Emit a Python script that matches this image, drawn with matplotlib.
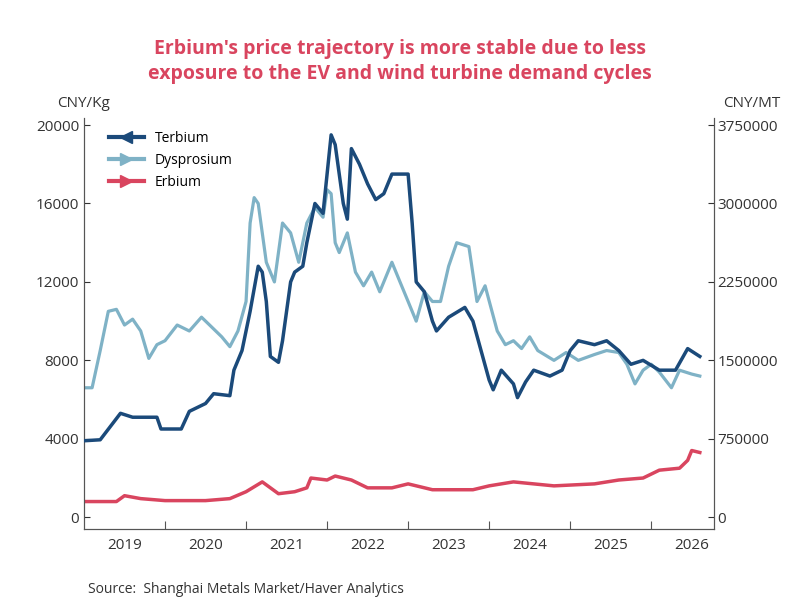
import matplotlib
matplotlib.use("Agg")
import matplotlib.pyplot as plt
from matplotlib.lines import Line2D
from matplotlib.ticker import FuncFormatter

plt.rcParams['font.family'] = ['Open Sans', 'DejaVu Sans']

# Terbium, CNY/Kg (left axis)
tb_t = [2019.0, 2019.2, 2019.45, 2019.6, 2019.9, 2019.95, 2020.2, 2020.3, 2020.5, 2020.6, 2020.8, 2020.85,
        2020.95, 2021.05, 2021.15, 2021.2, 2021.25, 2021.3, 2021.4, 2021.45, 2021.55, 2021.6, 2021.7, 2021.75,
        2021.85, 2021.95, 2022.05, 2022.1, 2022.2, 2022.25, 2022.3, 2022.4, 2022.5, 2022.6, 2022.7, 2022.8,
        2023.0, 2023.05, 2023.1, 2023.2, 2023.3, 2023.35, 2023.5, 2023.7, 2023.8, 2023.9, 2024.0, 2024.05,
        2024.15, 2024.3, 2024.35, 2024.45, 2024.55, 2024.75, 2024.9, 2025.0, 2025.1, 2025.3, 2025.45, 2025.6,
        2025.75, 2025.9, 2026.1, 2026.3, 2026.45, 2026.6]
tb_v = [3900, 3950, 5300, 5100, 5100, 4500, 4500, 5400, 5800, 6300, 6200, 7500,
        8500, 10500, 12800, 12500, 11000, 8200, 7900, 9000, 12000, 12500, 12800, 14000,
        16000, 15500, 19500, 19000, 16000, 15200, 18800, 18000, 17000, 16200, 16500, 17500,
        17500, 15000, 12000, 11500, 10000, 9500, 10200, 10700, 10000, 8500, 7000, 6500,
        7500, 6800, 6100, 6900, 7500, 7200, 7500, 8500, 9000, 8800, 9000, 8500,
        7800, 8000, 7500, 7500, 8600, 8200]

# Dysprosium, thousand CNY/MT (right axis)
dy_t = [2019.0, 2019.1, 2019.2, 2019.3, 2019.4, 2019.5, 2019.6, 2019.7, 2019.8, 2019.9, 2020.0, 2020.15,
        2020.3, 2020.45, 2020.55, 2020.7, 2020.8, 2020.9, 2021.0, 2021.05, 2021.1, 2021.15, 2021.25, 2021.35,
        2021.45, 2021.55, 2021.65, 2021.75, 2021.85, 2021.95, 2022.0, 2022.05, 2022.1, 2022.15, 2022.25, 2022.35,
        2022.45, 2022.55, 2022.65, 2022.8, 2022.9, 2023.0, 2023.1, 2023.2, 2023.3, 2023.4, 2023.5, 2023.6,
        2023.75, 2023.85, 2023.95, 2024.1, 2024.2, 2024.3, 2024.4, 2024.5, 2024.6, 2024.8, 2024.95, 2025.1,
        2025.3, 2025.45, 2025.6, 2025.7, 2025.8, 2025.9, 2026.0, 2026.1, 2026.25, 2026.35, 2026.5, 2026.6]
dy_v = [1238, 1238, 1594, 1969, 1988, 1838, 1894, 1781, 1519, 1650, 1688, 1838,
        1781, 1913, 1838, 1725, 1631, 1781, 2063, 2813, 3056, 3000, 2438, 2250,
        2813, 2719, 2438, 2813, 2963, 2869, 3131, 3094, 2625, 2531, 2719, 2344,
        2213, 2344, 2156, 2438, 2250, 2063, 1875, 2156, 2063, 2063, 2400, 2625,
        2588, 2063, 2213, 1781, 1650, 1688, 1613, 1725, 1594, 1500, 1575, 1500,
        1556, 1594, 1575, 1463, 1275, 1406, 1463, 1388, 1238, 1406, 1369, 1350]

# Erbium, thousand CNY/MT (right axis)
er_t = [2019.0, 2019.4, 2019.5, 2019.7, 2020.0, 2020.5, 2020.8, 2021.0, 2021.2, 2021.4, 2021.6, 2021.75,
        2021.8, 2022.0, 2022.1, 2022.3, 2022.5, 2022.8, 2023.0, 2023.3, 2023.8, 2024.0, 2024.3, 2024.8,
        2025.3, 2025.6, 2025.9, 2026.1, 2026.35, 2026.45, 2026.5, 2026.6]
er_v = [150, 150, 206, 178, 159, 159, 178, 244, 338, 225, 244, 281,
        375, 356, 394, 356, 281, 281, 319, 263, 263, 300, 338, 300,
        319, 356, 375, 450, 469, 544, 638, 619]

years = [2019, 2020, 2021, 2022, 2023, 2024, 2025, 2026]

c_tb, c_dy, c_er = '#1b4a7a', '#7fb2c6', '#d9455f'

fig, ax = plt.subplots(figsize=(8, 6), dpi=100)
fig.subplots_adjust(left=0.105, right=0.893, top=0.803, bottom=0.118)
ax2 = ax.twinx()

ax.plot(tb_t, tb_v, color=c_tb, lw=2.5, zorder=3)
ax2.plot(dy_t, [v * 1000 for v in dy_v], color=c_dy, lw=2.3)
ax2.plot(er_t, [v * 1000 for v in er_v], color=c_er, lw=2.5)
ax.set_zorder(ax2.get_zorder() + 1)
ax.patch.set_visible(False)

ax.set_ylim(-610, 20350)
ax2.set_ylim(-610 * 187.5, 20350 * 187.5)
ax.set_yticks(range(0, 20001, 4000))
ax2.set_yticks(range(0, 3750001, 750000))
ax2.yaxis.set_major_formatter(FuncFormatter(lambda v, p: f'{v:.0f}'))
ax.set_xlim(2019.0, 2026.78)
ax.set_xticks(years[1:])
ax.set_xticklabels([])
ax.set_xticks([y + 0.5 for y in years], minor=True)
ax.set_xticklabels([str(y) for y in years], minor=True)
ax.tick_params(axis='x', which='minor', length=0, labelsize=11, colors='#333333', pad=6)
ax.tick_params(axis='x', which='major', length=6, direction='in', color='#555555')
ax.tick_params(axis='y', labelsize=11, colors='#333333', direction='in', length=4)
ax2.tick_params(axis='y', labelsize=11, colors='#333333', direction='in', length=4, pad=2)

for a in (ax, ax2):
    a.spines['top'].set_visible(False)
    for s in ('left', 'right', 'bottom'):
        a.spines[s].set_color('#555555')

fig.text(0.105, 0.822, 'CNY/Kg', ha='center', fontsize=11, color='#333333')
fig.text(0.94, 0.822, 'CNY/MT', ha='center', fontsize=11, color='#333333')
fig.suptitle("Erbium's price trajectory is more stable due to less\nexposure to the EV and wind turbine demand cycles",
             y=0.935, fontsize=14, fontweight='bold', color=c_er, linespacing=1.3)
fig.text(0.11, 0.012, 'Source:  Shanghai Metals Market/Haver Analytics', fontsize=10, color='#333333')

handles = [Line2D([0], [0], color=c_tb, lw=3, marker='<', markersize=9, markevery=[0]),
           Line2D([0], [0], color=c_dy, lw=3, marker='>', markersize=9, markevery=[1]),
           Line2D([0], [0], color=c_er, lw=3, marker='>', markersize=9, markevery=[1])]
ax.legend(handles, ['Terbium', 'Dysprosium', 'Erbium'], loc='upper left', bbox_to_anchor=(0.02, 1.0),
          frameon=False, fontsize=10, handlelength=2.5, labelspacing=0.5)

fig.savefig('out.png', dpi=100)
